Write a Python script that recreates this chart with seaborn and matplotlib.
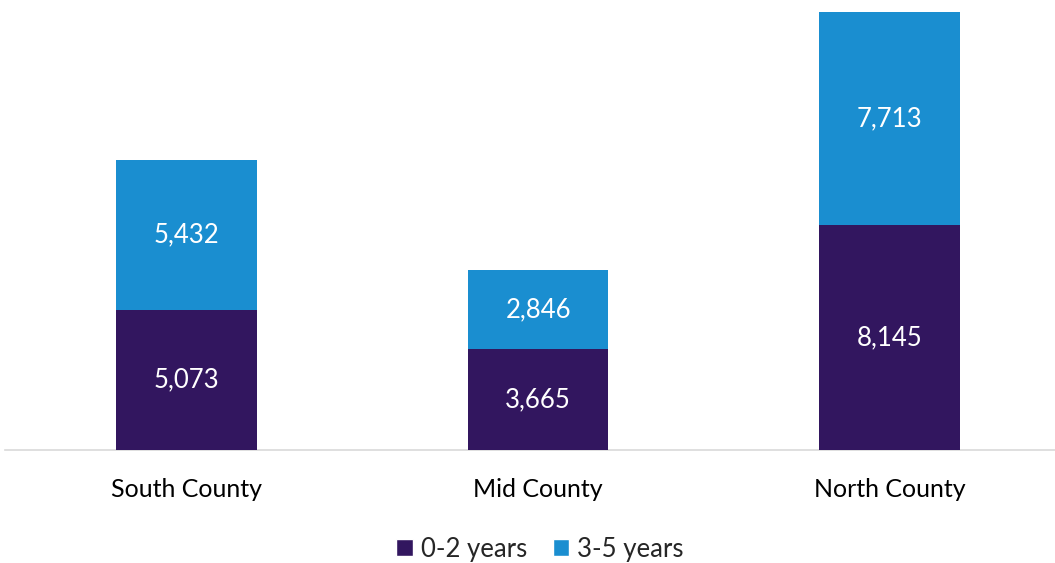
import matplotlib
matplotlib.use("Agg")
import matplotlib.pyplot as plt
import seaborn as sns
import pandas as pd
from matplotlib.patches import Patch

regions = ["South County", "Mid County", "North County"]
age_0_2 = [5073, 3665, 8145]
age_3_5 = [5432, 2846, 7713]
series_names = ["0-2 years", "3-5 years"]

dark = "#32165f"
blue = "#1a8ed0"

sns.set_theme(style="white")
plt.rcParams["font.family"] = ["Lato", "DejaVu Sans"]

df = pd.DataFrame({"region": regions, "young": age_0_2, "older": age_3_5})
df["total"] = df["young"] + df["older"]

fig = plt.figure(figsize=(10.55, 5.63), dpi=100)
ax = fig.add_axes([5 / 1055, 1 - 450 / 563, 1 - 5 / 1055, 450 / 563])

# stacked bars: full total in blue, lower segment in dark purple on top
sns.barplot(data=df, x="region", y="total", color=blue, width=0.4,
            saturation=1, linewidth=0, ax=ax, zorder=2)
sns.barplot(data=df, x="region", y="young", color=dark, width=0.4,
            saturation=1, linewidth=0, ax=ax, zorder=3)

for i, (y0, y1) in enumerate(zip(age_0_2, age_3_5)):
    ax.text(i, y0 / 2, f"{y0:,}", ha="center", va="center", color="white",
            fontsize=18.5, zorder=4)
    ax.text(i, y0 + y1 / 2, f"{y1:,}", ha="center", va="center", color="white",
            fontsize=18.5, zorder=4)

ax.set_xlim(-0.516, 2.47)
ax.set_ylim(0, 16290)
ax.set_xlabel("")
ax.set_ylabel("")
ax.set_yticks([])
for s in ["top", "right", "left"]:
    ax.spines[s].set_visible(False)
ax.spines["bottom"].set_color("#d9d9d9")
ax.spines["bottom"].set_linewidth(1.2)
ax.tick_params(axis="x", length=0, pad=20, labelsize=18, labelcolor="#000000")

handles = [Patch(facecolor=dark, label=series_names[0]),
           Patch(facecolor=blue, label=series_names[1])]
fig.legend(handles=handles, loc="center", bbox_to_anchor=(540 / 1055, 1 - 549 / 563),
           ncol=2, frameon=False, fontsize=18.5, handlelength=0.65, handleheight=0.65,
           handletextpad=0.3, columnspacing=1.0)

fig.savefig("out.png", dpi=100)
